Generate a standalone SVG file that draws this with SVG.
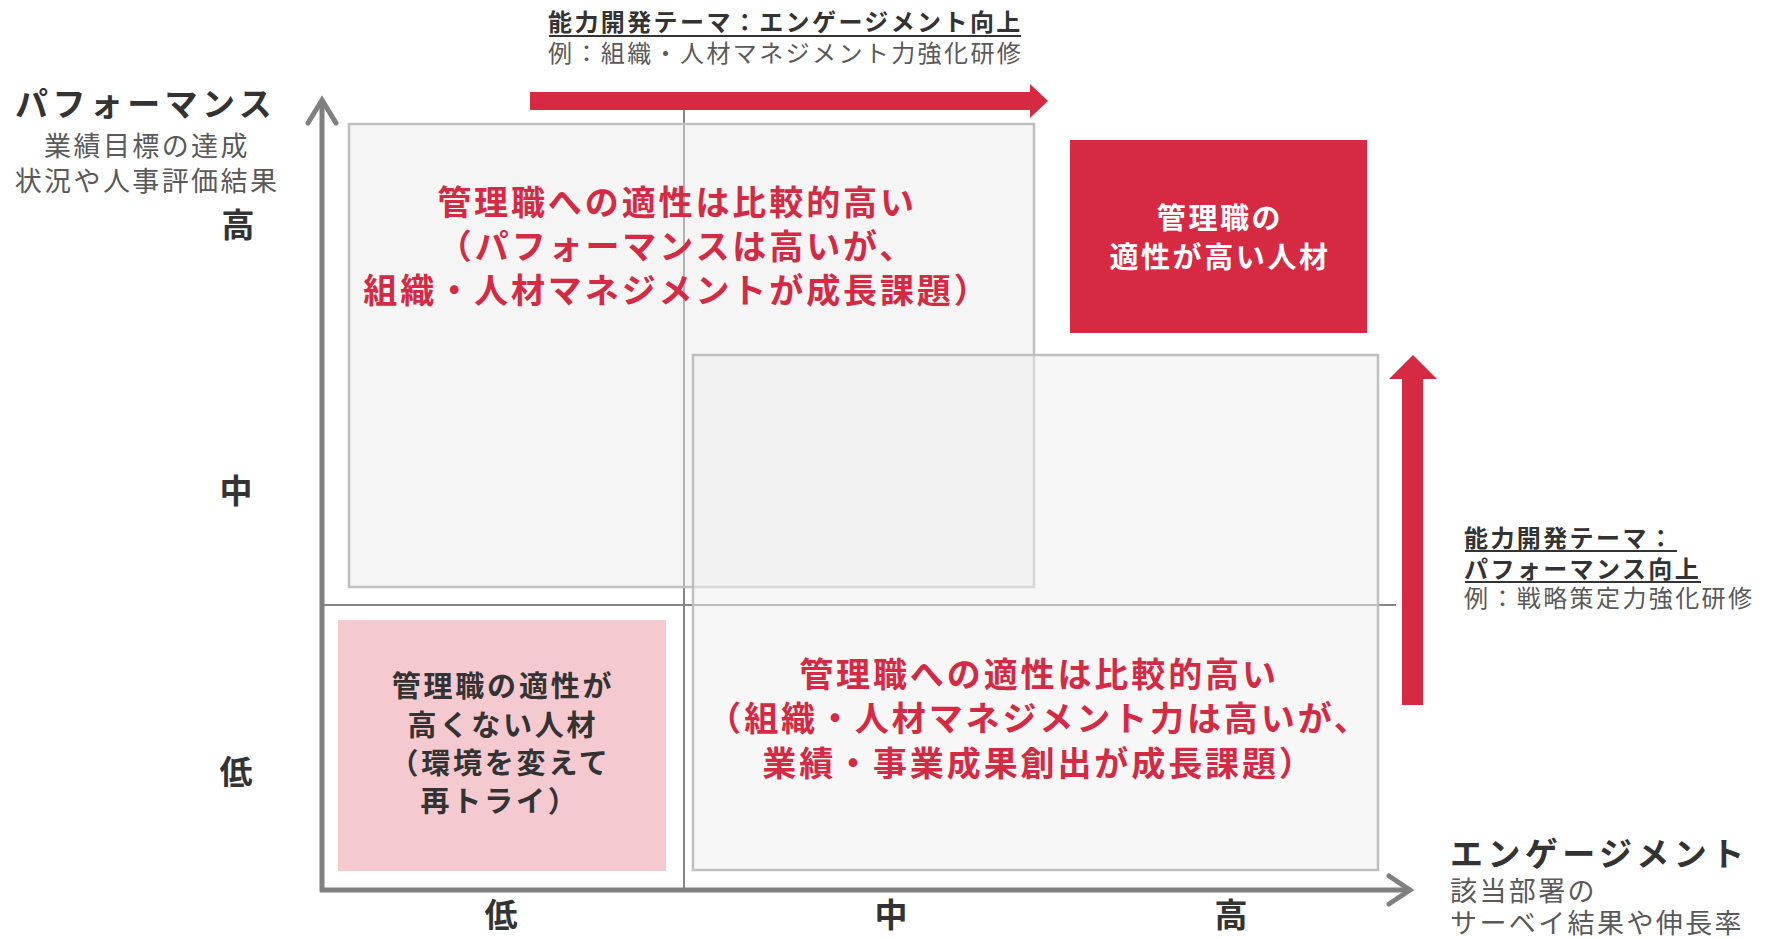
<svg xmlns="http://www.w3.org/2000/svg" width="1769" height="939" viewBox="0 0 1769 939">
<style>
text{font-family:"Noto Sans CJK JP","Noto Sans CJK SC",sans-serif;}
.head{font-size:33px;letter-spacing:4.4px;fill:#333;font-weight:bold;}
.sub{font-size:27px;letter-spacing:2.4px;fill:#595959;}
.lvl{font-size:33px;fill:#333;font-weight:bold;text-anchor:middle;}
.ann{font-size:24px;letter-spacing:2.4px;}
.annb{fill:#333;font-weight:bold;}
.anng{fill:#595959;}
.q{font-size:34px;letter-spacing:2.9px;fill:#d42a44;font-weight:bold;text-anchor:middle;}
.w{font-size:29px;letter-spacing:2.6px;fill:#fff;font-weight:bold;text-anchor:middle;}
.p{font-size:29px;letter-spacing:2.8px;fill:#333;font-weight:bold;text-anchor:middle;}
.axis{stroke:#808080;stroke-width:5;fill:none;}
.mid{stroke:#868686;stroke-width:2;}
.box{stroke:#bfbfbf;stroke-width:2.5;}
.ul{stroke:#333;stroke-width:2;}
.red{fill:#d62a43;}
</style>
<g id="connectors">
  <line class="mid" x1="684" y1="108" x2="684" y2="890"/>
  <line class="mid" x1="322" y1="605" x2="1396" y2="605"/>
  <line class="axis" x1="322" y1="892" x2="322" y2="101"/>
  <polyline class="axis" points="308,123 322,100 336,123" stroke-linejoin="miter" stroke-linecap="round"/>
  <line class="axis" x1="320" y1="890" x2="1408" y2="890"/>
  <polyline class="axis" points="1389,876 1410,890 1389,904" stroke-linejoin="miter" stroke-linecap="round"/>
  <polygon class="red" points="530,92 1030,92 1030,84 1048,101 1030,118 1030,110 530,110"/>
  <polygon class="red" points="1402,705 1402,379 1389,379 1413,355 1437,379 1423,379 1423,705"/>
</g>
<g id="box-top-left">
  <rect class="box" x="349" y="124" width="685" height="463" fill="#e8e8e8" fill-opacity="0.45"/>
  <text class="q" x="677" y="215">管理職への適性は比較的高い</text>
  <text class="q" x="677" y="259">（パフォーマンスは高いが、</text>
  <text class="q" x="677" y="303">組織・人材マネジメントが成長課題）</text>
</g>
<g id="box-bottom-right">
  <rect class="box" x="693" y="355" width="685" height="515" fill="#efefef" fill-opacity="0.5"/>
  <text class="q" x="1039" y="687">管理職への適性は比較的高い</text>
  <text class="q" x="1039" y="731">（組織・人材マネジメント力は高いが、</text>
  <text class="q" x="1039" y="776">業績・事業成果創出が成長課題）</text>
</g>
<g id="box-high">
  <rect class="red" x="1070" y="140" width="297" height="193"/>
  <text class="w" x="1220" y="229">管理職の</text>
  <text class="w" x="1220" y="268">適性が高い人材</text>
</g>
<g id="box-low">
  <rect x="338" y="620" width="328" height="251" fill="#f4c9d0"/>
  <text class="p" x="503" y="697">管理職の適性が</text>
  <text class="p" x="503" y="736">高くない人材</text>
  <text class="p" x="500" y="774">（環境を変えて</text>
  <text class="p" x="500" y="812">再トライ）</text>
</g>
<g id="y-axis-label">
  <text class="head" x="15" y="116">パフォーマンス</text>
  <text class="sub" x="147" y="156" text-anchor="middle">業績目標の達成</text>
  <text class="sub" x="147" y="191" text-anchor="middle">状況や人事評価結果</text>
</g>
<g id="y-levels">
  <text class="lvl" x="238" y="237">高</text>
  <text class="lvl" x="236" y="503">中</text>
  <text class="lvl" x="236" y="784">低</text>
</g>
<g id="x-levels">
  <text class="lvl" x="501" y="927">低</text>
  <text class="lvl" x="891" y="927">中</text>
  <text class="lvl" x="1231" y="927">高</text>
</g>
<g id="x-axis-label">
  <text class="head" x="1450" y="866">エンゲージメント</text>
  <text class="sub" x="1450" y="901">該当部署の</text>
  <text class="sub" x="1450" y="933">サーベイ結果や伸長率</text>
</g>
<g id="theme-engagement">
  <text class="ann annb" x="548" y="31">能力開発テーマ：エンゲージメント向上</text>
  <line class="ul" x1="549" y1="36" x2="1021" y2="36"/>
  <text class="ann anng" x="548" y="62">例：組織・人材マネジメント力強化研修</text>
</g>
<g id="theme-performance">
  <text class="ann annb" x="1464" y="547">能力開発テーマ：</text>
  <line class="ul" x1="1465" y1="551" x2="1677" y2="551"/>
  <text class="ann annb" x="1464" y="578">パフォーマンス向上</text>
  <line class="ul" x1="1465" y1="582" x2="1701" y2="582"/>
  <text class="ann anng" x="1464" y="607">例：戦略策定力強化研修</text>
</g>
</svg>
